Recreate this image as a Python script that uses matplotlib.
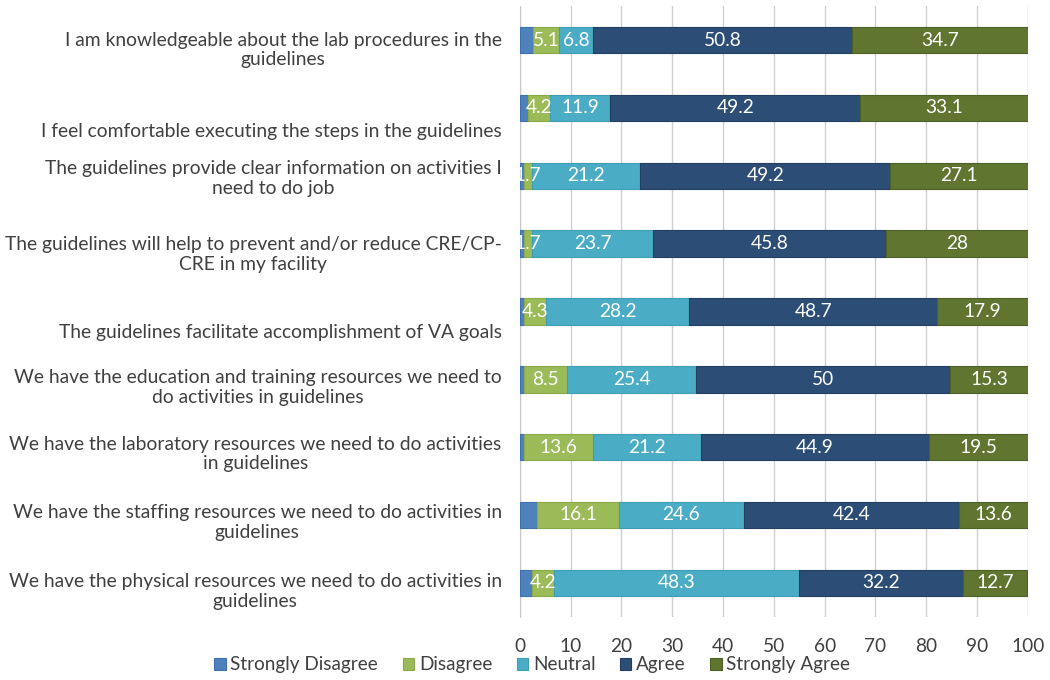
import matplotlib.pyplot as plt
import matplotlib.transforms as mtransforms
import numpy as np

plt.rcParams['font.family'] = ['Lato', 'DejaVu Sans']

# statements, top to bottom
questions = [
    'I am knowledgeable about the lab procedures in the\nguidelines',
    'I feel comfortable executing the steps in the guidelines',
    'The guidelines provide clear information on activities I\nneed to do job',
    'The guidelines will help to prevent and/or reduce CRE/CP-\nCRE in my facility',
    'The guidelines facilitate accomplishment of VA goals',
    'We have the education and training resources we need to\ndo activities in guidelines',
    'We have the laboratory resources we need to do activities\nin guidelines',
    'We have the staffing resources we need to do activities in\nguidelines',
    'We have the physical resources we need to do activities in\nguidelines',
]

strongly_disagree = [2.6, 1.7, 0.8, 0.8, 0.9, 0.8, 0.8, 3.4, 2.5]
disagree = [5.1, 4.2, 1.7, 1.7, 4.3, 8.5, 13.6, 16.1, 4.2]
neutral = [6.8, 11.9, 21.2, 23.7, 28.2, 25.4, 21.2, 24.6, 48.3]
agree = [50.8, 49.2, 49.2, 45.8, 48.7, 50, 44.9, 42.4, 32.2]
strongly_agree = [34.7, 33.1, 27.1, 28, 17.9, 15.3, 19.5, 13.6, 12.7]

series = [
    ('Strongly Disagree', strongly_disagree, '#4F81BD', '#3F6FAF', False),
    ('Disagree', disagree, '#9BBB59', '#8AAA48', True),
    ('Neutral', neutral, '#4BACC6', '#3E9CB5', True),
    ('Agree', agree, '#2C4D75', '#233E60', True),
    ('Strongly Agree', strongly_agree, '#5F7530', '#4E6226', True),
]

# vertical nudge of each category label (pixels, downwards) like the original layout
label_shift = [7, 22, 0, 8, 20, 5, 4, 5, 6]

fig = plt.figure(figsize=(10.5, 6.8), dpi=100)
ax = fig.add_axes([0.495, 0.093, 0.484, 0.898])

y = np.arange(len(questions))
left = np.zeros(len(questions))
all_bars = []
for name, vals, color, edge, show in series:
    vals = np.array(vals)
    bars = ax.barh(y, vals, left=left, height=0.39, color=color,
                   edgecolor=edge, linewidth=0.8, label=name, zorder=3)
    all_bars.append((bars, vals, show))
    left += vals

# labels after all bars so they sit on top
for bars, vals, show in all_bars:
    if show:
        labels = [f'{v:g}' for v in vals]
        txts = ax.bar_label(bars, labels=labels, label_type='center',
                            color='white', fontsize=13.8)
        for t in txts:
            t.set_zorder(5)
            t.set_clip_on(True)

ax.set_ylim(len(questions) - 0.5, -0.5)
ax.set_xlim(0, 100)
ax.set_xticks(range(0, 101, 10))
ax.set_yticks(y)
ax.set_yticklabels(questions, fontsize=13.9, color='#404040', ha='right',
                   multialignment='center')
ax.tick_params(axis='y', length=0, pad=13)
ax.tick_params(axis='x', length=0, labelsize=13.8, labelcolor='#404040', pad=15)
ax.grid(axis='x', color='#D0D0D0', linewidth=1, zorder=0)
for s in ['top', 'right', 'bottom']:
    ax.spines[s].set_visible(False)
ax.spines['left'].set_color('#C8C8C8')

for lab, dy in zip(ax.get_yticklabels(), label_shift):
    off = mtransforms.ScaledTranslation(0, -dy / 100, fig.dpi_scale_trans)
    lab.set_transform(lab.get_transform() + off)

handles, labels = ax.get_legend_handles_labels()
fig.legend(handles, labels, loc='lower center', ncol=5, frameon=False,
           fontsize=13.6, handlelength=0.6, handleheight=0.6,
           handletextpad=0.25, columnspacing=1.3,
           bbox_to_anchor=(0.507, -0.015), labelcolor='#404040')

fig.savefig('out.png', dpi=100)
